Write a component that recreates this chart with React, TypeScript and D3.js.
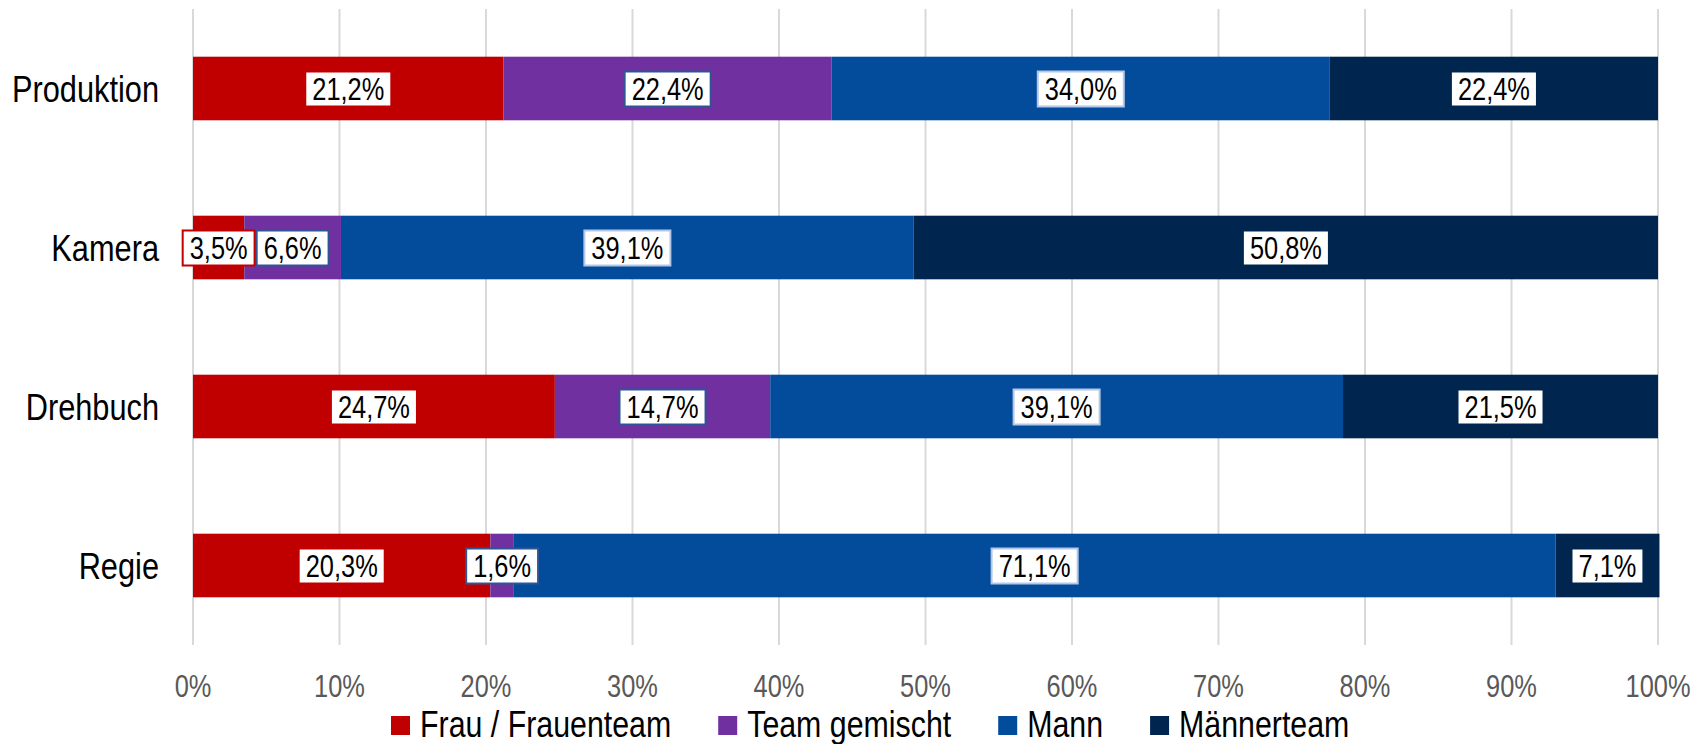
import React, { useEffect, useRef } from 'react'
import * as d3 from 'd3'

const categories = ['Produktion', 'Kamera', 'Drehbuch', 'Regie']
const seriesNames = ['Frau / Frauenteam', 'Team gemischt', 'Mann', 'Männerteam']
const frau = [21.2, 3.5, 24.7, 20.3]
const gemischt = [22.4, 6.6, 14.7, 1.6]
const mann = [34.0, 39.1, 39.1, 71.1]
const maennerteam = [22.4, 50.8, 21.5, 7.1]
const xTicks = [0, 10, 20, 30, 40, 50, 60, 70, 80, 90, 100]

const colors = ['#C00000', '#7030A0', '#034C9B', '#00264F']
const labelBorders = ['#C00000', '#2F5597', '#B4C7E7', '#00264F']
const FONT = '"Liberation Sans", Arial, sans-serif'
const NARROW = 0.82 // no narrow font installed: squeeze Liberation Sans

export default function App() {
  const ref = useRef<SVGSVGElement>(null)

  useEffect(() => {
    const svg = d3.select(ref.current)
    svg.selectAll('*').remove()

    const width = 1700
    const height = 744
    const margin = { top: 9, right: 42, bottom: 99, left: 193 }
    const innerW = width - margin.left - margin.right
    const innerH = height - margin.top - margin.bottom

    // narrow text placed at (px, py)
    const narrowText = (parent: any, px: number, py: number, size: number, anchor: string, fill: string, str: string) =>
      parent
        .append('text')
        .attr('transform', `translate(${px},${py}) scale(${NARROW},1)`)
        .attr('text-anchor', anchor)
        .attr('font-family', FONT)
        .attr('font-size', size)
        .attr('fill', fill)
        .text(str)

    const series = [frau, gemischt, mann, maennerteam]
    const rows = categories.map((c, i) => {
      const row: any = { cat: c }
      seriesNames.forEach((s, j) => (row[s] = series[j][i]))
      return row
    })
    const stacked = d3.stack().keys(seriesNames)(rows)

    const x = d3.scaleLinear().domain([0, 100]).range([margin.left, margin.left + innerW])
    const y = d3
      .scaleBand()
      .domain(categories)
      .range([margin.top, margin.top + innerH])
      .paddingInner(0.6)
      .paddingOuter(0.3)

    // gridlines
    svg
      .append('g')
      .selectAll('line')
      .data(xTicks)
      .join('line')
      .attr('x1', d => x(d))
      .attr('x2', d => x(d))
      .attr('y1', margin.top)
      .attr('y2', margin.top + innerH)
      .attr('stroke', '#D9D9D9')
      .attr('stroke-width', 2)

    // tick labels
    const tg = svg.append('g')
    xTicks.forEach(d => narrowText(tg, x(d), 697, 31, 'middle', '#595959', `${d}%`))

    // category labels
    const cg = svg.append('g')
    categories.forEach(c =>
      narrowText(cg, margin.left - 34, (y(c) as number) + y.bandwidth() / 2 + 13, 37.5, 'end', '#000', c)
    )

    // bars
    stacked.forEach((layer, j) => {
      svg
        .append('g')
        .selectAll('rect')
        .data(layer)
        .join('rect')
        .attr('x', d => x(d[0]))
        .attr('y', d => y(d.data.cat as any) as number)
        .attr('width', d => x(d[1]) - x(d[0]))
        .attr('height', y.bandwidth())
        .attr('fill', colors[j])
    })

    // data labels
    const fmt = (v: number) => d3.format('.1f')(v).replace('.', ',') + '%'
    stacked.forEach((layer, j) => {
      layer.forEach(d => {
        const cx = x((d[0] + d[1]) / 2)
        const cy = (y(d.data.cat as any) as number) + y.bandwidth() / 2
        const g = svg.append('g')
        const t = narrowText(g, cx, cy + 11, 31, 'middle', '#000', fmt(d[1] - d[0]))
        const w = (t.node() as SVGTextElement).getComputedTextLength() * NARROW + 14
        g.insert('rect', 'text')
          .attr('x', cx - w / 2)
          .attr('y', cy - 17)
          .attr('width', w)
          .attr('height', 35)
          .attr('fill', '#fff')
          .attr('stroke', labelBorders[j])
          .attr('stroke-width', 2)
      })
    })

    // legend
    const legend = svg.append('g').attr('transform', 'translate(391,0)')
    let lx = 0
    const sq = 19
    const gap = 10
    const itemGap = 47
    seriesNames.forEach((s, j) => {
      const item = legend.append('g').attr('transform', `translate(${lx},0)`)
      item
        .append('rect')
        .attr('x', 0)
        .attr('y', 716)
        .attr('width', sq)
        .attr('height', sq)
        .attr('fill', colors[j])
      const t = narrowText(item, sq + gap, 737, 37, 'start', '#000', s)
      lx += sq + gap + (t.node() as SVGTextElement).getComputedTextLength() * NARROW + itemGap
    })
  }, [])

  return (
    <svg
      ref={ref}
      width={1700}
      height={744}
      style={{ position: 'absolute', left: 0, top: 0, background: '#fff' }}
    ></svg>
  )
}
